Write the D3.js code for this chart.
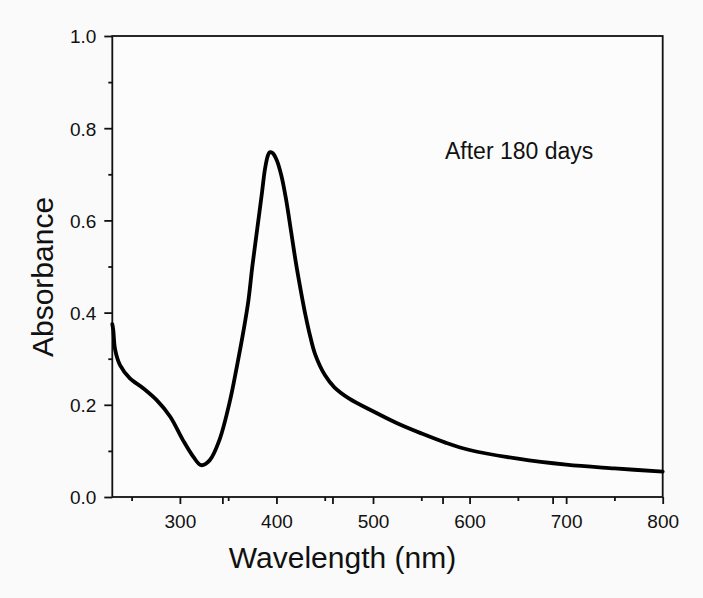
<!DOCTYPE html>
<html>
<head>
<meta charset="utf-8">
<script src="https://cdn.jsdelivr.net/npm/d3@7"></script>
<style>
  html, body { margin: 0; padding: 0; background: #fafafa; }
  svg { display: block; }
  text { font-family: "Liberation Sans", Arial, sans-serif; fill: #111; }
</style>
</head>
<body>
<svg id="chart" width="703" height="598"></svg>
<script>
// Data (wavelength nm, absorbance)
const wavelength = [230, 231, 233, 238, 248, 262, 276, 290, 303, 314, 322, 331, 341, 352, 359, 366, 371, 375, 380, 385, 388, 391, 393, 396, 400, 405, 410, 415, 420, 425, 430, 435, 440, 450, 460, 475, 500, 525, 550, 575, 600, 650, 700, 750, 800];
const absorbance = [0.375, 0.362, 0.319, 0.286, 0.258, 0.236, 0.210, 0.174, 0.124, 0.087, 0.069, 0.080, 0.124, 0.210, 0.283, 0.362, 0.427, 0.50, 0.58, 0.66, 0.71, 0.74, 0.748, 0.746, 0.732, 0.698, 0.645, 0.578, 0.51, 0.45, 0.395, 0.348, 0.31, 0.265, 0.238, 0.214, 0.186, 0.160, 0.138, 0.118, 0.102, 0.083, 0.070, 0.062, 0.055];
const xMajorTicks = [300, 400, 500, 600, 700, 800];
const xMinorTicks = [250, 350, 450, 550, 650, 750];
const xExtraTicks = [344, 458, 572, 686];
const yMajorTicks = [0.0, 0.2, 0.4, 0.6, 0.8, 1.0];
const yMinorTicks = [0.1, 0.3, 0.5, 0.7, 0.9];
const annotation = "After 180 days";
const xTitle = "Wavelength (nm)";
const yTitle = "Absorbance";

const svg = d3.select("#chart");
const L = 112.3, R = 662.7, T = 36, B = 497;

const x = d3.scaleLinear().domain([230, 800]).range([L, R]);
const y = d3.scaleLinear().domain([0, 1]).range([B, T]);

// Frame
svg.append("rect")
  .attr("x", L).attr("y", T).attr("width", R - L).attr("height", B - T)
  .attr("fill", "#fcfcfc").attr("stroke", "#111").attr("stroke-width", 1.8);

// X axis
const xAxis = svg.append("g").attr("transform", `translate(0,${B})`);
xAxis.call(d3.axisBottom(x).tickValues(xMajorTicks).tickSize(7).tickFormat(d3.format("d")))
  .call(g => g.select(".domain").remove());
xAxis.selectAll(".tick line").attr("stroke", "#111").attr("stroke-width", 1.8);
xAxis.selectAll(".tick text").attr("font-size", 19).attr("dy", 0).attr("y", 31).attr("fill", "#111")
  .style("font-family", '"Liberation Sans", Arial, sans-serif');
const xMin = svg.append("g").attr("transform", `translate(0,${B})`);
xMin.call(d3.axisBottom(x).tickValues(xMinorTicks).tickSize(4).tickFormat(""))
  .call(g => g.select(".domain").remove());
xMin.selectAll(".tick line").attr("stroke", "#111").attr("stroke-width", 1.8);
const xExt = svg.append("g").attr("transform", `translate(0,${B})`);
xExt.call(d3.axisBottom(x).tickValues(xExtraTicks).tickSize(7).tickFormat(""))
  .call(g => g.select(".domain").remove());
xExt.selectAll(".tick line").attr("stroke", "#111").attr("stroke-width", 1.8);

// Y axis
const yAxis = svg.append("g").attr("transform", `translate(${L},0)`);
yAxis.call(d3.axisLeft(y).tickValues(yMajorTicks).tickSize(8).tickFormat(d3.format(".1f")))
  .call(g => g.select(".domain").remove());
yAxis.selectAll(".tick line").attr("stroke", "#111").attr("stroke-width", 1.8);
yAxis.selectAll(".tick text").attr("font-size", 19).attr("x", -16).attr("dy", "0.36em").attr("fill", "#111")
  .style("font-family", '"Liberation Sans", Arial, sans-serif');
const yMin = svg.append("g").attr("transform", `translate(${L},0)`);
yMin.call(d3.axisLeft(y).tickValues(yMinorTicks).tickSize(4).tickFormat(""))
  .call(g => g.select(".domain").remove());
yMin.selectAll(".tick line").attr("stroke", "#111").attr("stroke-width", 1.8);

// Curve
const data = wavelength.map((w, i) => ({ w, a: absorbance[i] }));
const line = d3.line().x(d => x(d.w)).y(d => y(d.a)).curve(d3.curveCatmullRom.alpha(0.5));
svg.append("path").datum(data)
  .attr("d", line)
  .attr("fill", "none").attr("stroke", "#000").attr("stroke-width", 3.8)
  .attr("stroke-linejoin", "round").attr("stroke-linecap", "round");

// Titles
svg.append("text").attr("x", 342.5).attr("y", 568).attr("text-anchor", "middle")
  .attr("font-size", 30).text(xTitle);
svg.append("text").attr("transform", "translate(53,277) rotate(-90)").attr("text-anchor", "middle")
  .attr("font-size", 30).text(yTitle);
svg.append("text").attr("x", 445).attr("y", 159).attr("font-size", 23).text(annotation);
</script>
</body>
</html>
